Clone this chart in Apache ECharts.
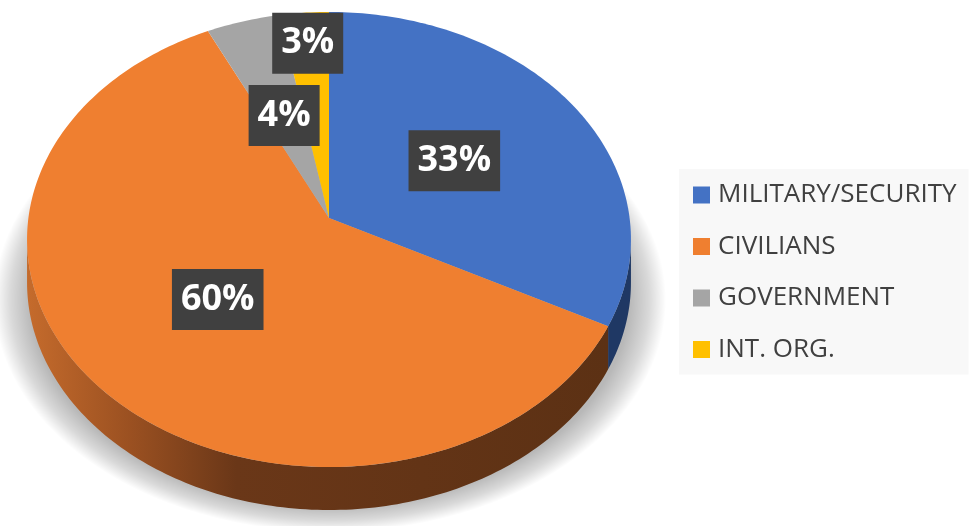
<!DOCTYPE html>
<html>
<head>
<meta charset="utf-8">
<script src="https://cdn.jsdelivr.net/npm/echarts@6/dist/echarts.min.js"></script>
<style>
  html, body { margin: 0; padding: 0; background: #fff; }
  #chart { width: 977px; height: 526px; }
</style>
</head>
<body>
<div id="chart"></div>
<script>
// data
const categories = ['MILITARY/SECURITY', 'CIVILIANS', 'GOVERNMENT', 'INT. ORG.']
const shares = [32.6, 60.2, 4.3, 2.9]

// styles
const topColors = ['#4472c4', '#ef7f30', '#a5a5a5', '#ffc000']
const sideColors = [
  '#1f3864',
  { type: 'linear', x: 0, y: 0, x2: 1, y2: 0, colorStops: [
    { offset: 0, color: '#c56b2c' }, { offset: 0.18, color: '#9a5021' },
    { offset: 0.36, color: '#6a3718' }, { offset: 1, color: '#5c3114' }] },
  '#595959',
  '#7f6000',
]

// tilted pie geometry (perspective view of a disc)
const CX = 329, CY = 218, RX = 300.6, RY = 225.5, K = -0.0945, DEPTH = 43
const WALL_FROM = 95.4, WALL_TO = 264.6 // rim part facing the viewer
const LABEL_FONT = 'bold 36px "Open Sans"'

const total = shares.reduce((a, b) => a + b, 0)
const startAt = shares.map((_, i) => shares.slice(0, i).reduce((a, b) => a + b, 0) / total * 360)
const endAt = shares.map((s, i) => startAt[i] + s / total * 360)

/** angle in degrees, clockwise from the far point; f = fraction of radius */
function project(deg, f) {
  const t = deg * Math.PI / 180
  const u = f * Math.sin(t), v = -f * Math.cos(t)
  const w = 1 + K * v
  return [CX + RX * u / w, CY + RY * v / w]
}

function arc(a, b, dy) {
  const pts = []
  const n = Math.max(2, Math.ceil(Math.abs(b - a)))
  for (let i = 0; i <= n; i++) {
    const p = project(a + (b - a) * i / n, 1)
    pts.push([p[0], p[1] + (dy || 0)])
  }
  return pts
}

/** label centres: middle of the slice, pushed outward if it hits an earlier label */
const labelPos = (function () {
  const ctx = document.createElement('canvas').getContext('2d')
  ctx.font = LABEL_FONT
  const boxes = []
  return shares.map((s, i) => {
    const text = Math.round(s / total * 100) + '%'
    const w = ctx.measureText(text).width + 18, h = 61
    const mid = (startAt[i] + endAt[i]) / 2
    let f = 0.5, p, box
    for (;;) {
      p = project(mid, f)
      box = [p[0] - w / 2, p[1] - h / 2, p[0] + w / 2, p[1] + h / 2]
      const hit = boxes.some(b => box[0] < b[2] + 10 && box[2] > b[0] - 10 && box[1] < b[3] + 10 && box[3] > b[1] - 10)
      if (!hit || f > 0.95) break
      f += 0.01
    }
    boxes.push(box)
    return { text, p }
  })
})()

function renderSlice(i) {
  return function () {
    const children = []
    const a = startAt[i], b = endAt[i]
    const s = Math.max(a, WALL_FROM), e = Math.min(b, WALL_TO)
    if (e > s) {
      const top = arc(s, e, 0)
      const bottom = arc(s, e, DEPTH).reverse()
      children.push({
        type: 'polygon', z2: 1,
        shape: { points: top.concat(bottom) },
        style: { fill: sideColors[i] },
      })
    }
    children.push({
      type: 'polygon', z2: 2,
      shape: { points: [[CX, CY]].concat(arc(a, b, 0)) },
      style: { fill: topColors[i] },
    })
    const lab = labelPos[i]
    children.push({
      type: 'text', z2: 3,
      x: lab.p[0], y: lab.p[1],
      style: {
        text: lab.text, font: LABEL_FONT, fill: '#fff',
        align: 'center', verticalAlign: 'middle',
        backgroundColor: '#404040', padding: [14, 9, 11, 9],
        boxShadowBlur: 6, boxShadowColor: 'rgba(0,0,0,0.45)', boxShadowOffsetX: 3, boxShadowOffsetY: 4,
      },
    })
    return { type: 'group', children }
  }
}

const chart = echarts.init(document.getElementById('chart'))
chart.setOption({
  animation: false,
  legend: {
    orient: 'vertical',
    left: 679,
    top: 169,
    padding: [13, 12, 12, 14],
    backgroundColor: '#f8f8f8',
    itemWidth: 17,
    itemHeight: 17,
    itemGap: 25.5,
    icon: 'rect',
    selectedMode: false,
    textStyle: { color: '#404040', fontSize: 26, fontFamily: '"Open Sans", sans-serif', padding: [0, 0, 0, 3] },
    data: categories,
  },
  // soft ground shadow under the disc: a stretched circle with a fading radial fill
  graphic: [{
    type: 'circle',
    z: 0,
    silent: true,
    shape: { cx: 330, cy: 300, r: 232 },
    scaleX: 336 / 232, originX: 330, originY: 300,
    style: {
      fill: { type: 'radial', x: 0.5, y: 0.5, r: 0.5, colorStops: [
        { offset: 0, color: 'rgba(0,0,0,0.3)' }, { offset: 0.89, color: 'rgba(0,0,0,0.28)' },
        { offset: 0.95, color: 'rgba(0,0,0,0.15)' }, { offset: 1, color: 'rgba(0,0,0,0)' }] },
    },
  }],
  series: categories.map((name, i) => ({
    type: 'custom',
    name,
    coordinateSystem: 'none',
    z: 2,
    itemStyle: { color: topColors[i] },
    data: [shares[i]],
    renderItem: renderSlice(i),
  })),
})
</script>
</body>
</html>
